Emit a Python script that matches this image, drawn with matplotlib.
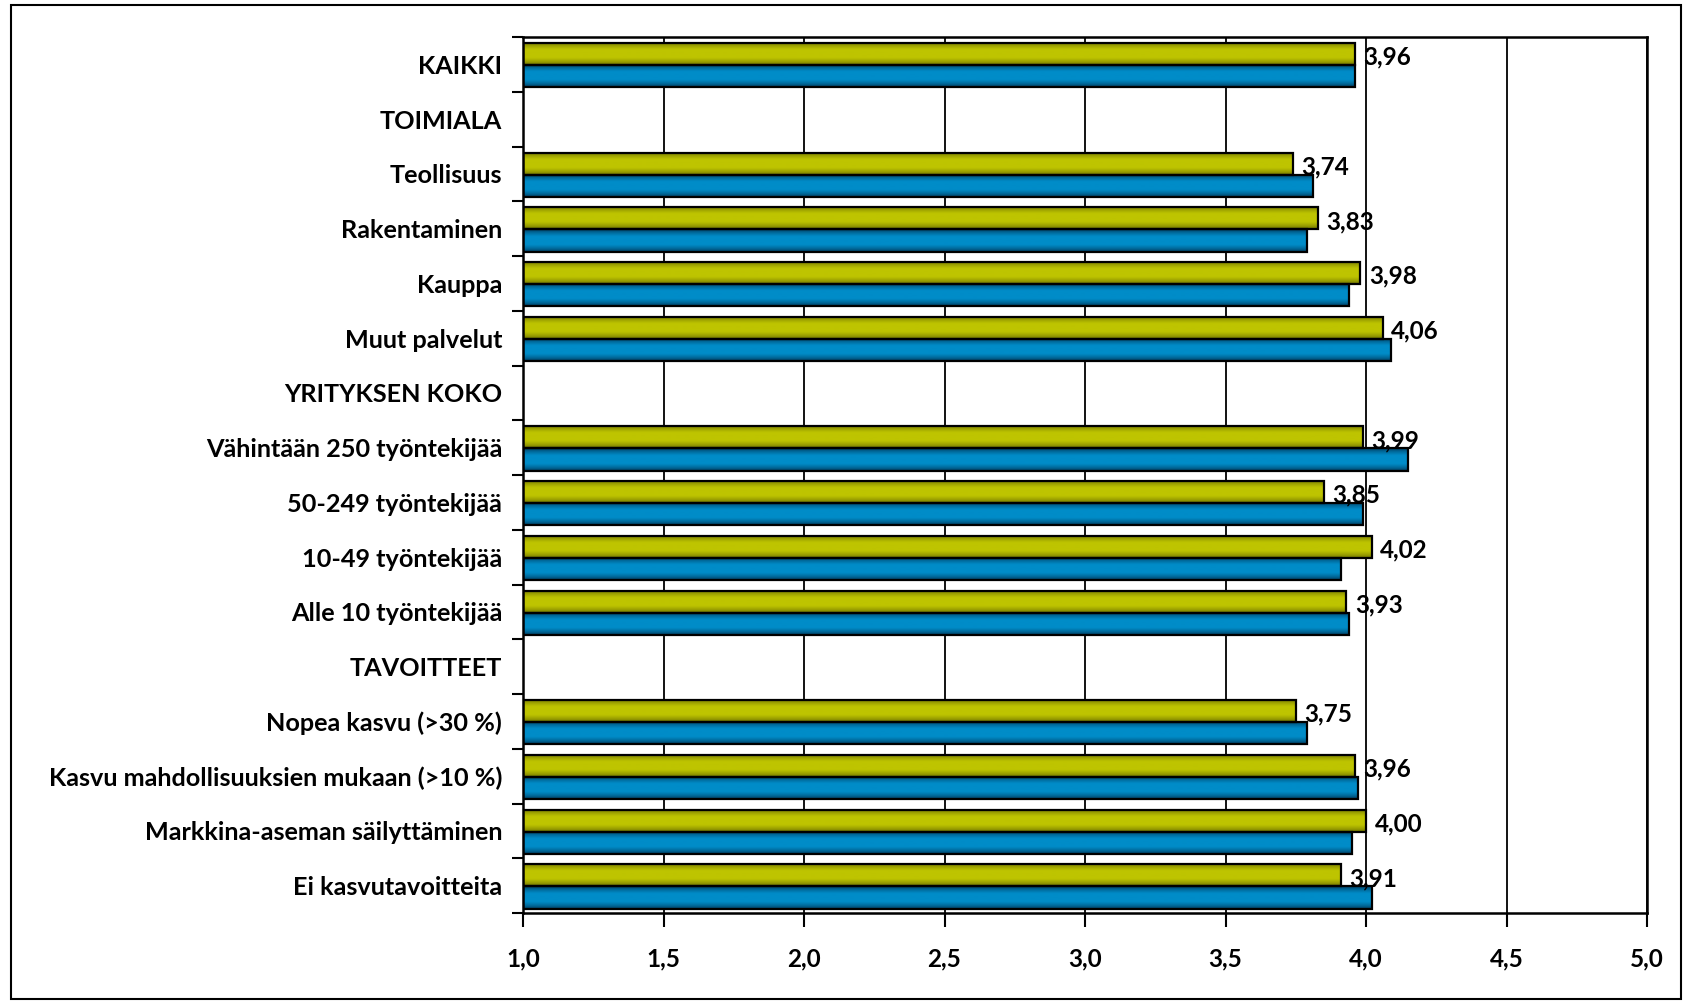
import numpy as np
import matplotlib
matplotlib.use("Agg")
import matplotlib.pyplot as plt
from matplotlib.patches import Rectangle

categories = ["KAIKKI", "TOIMIALA", "Teollisuus", "Rakentaminen", "Kauppa",
              "Muut palvelut", "YRITYKSEN KOKO", "Vähintään 250 työntekijää",
              "50-249 työntekijää", "10-49 työntekijää", "Alle 10 työntekijää",
              "TAVOITTEET", "Nopea kasvu (>30 %)",
              "Kasvu mahdollisuuksien mukaan (>10 %)",
              "Markkina-aseman säilyttäminen", "Ei kasvutavoitteita"]
series_yellow = [3.96, np.nan, 3.74, 3.83, 3.98, 4.06, np.nan, 3.99, 3.85, 4.02,
                 3.93, np.nan, 3.75, 3.96, 4.00, 3.91]
series_blue = [3.96, np.nan, 3.81, 3.79, 3.94, 4.09, np.nan, 4.15, 3.99, 3.91,
               3.94, np.nan, 3.79, 3.97, 3.95, 4.02]
xticks = [1.0, 1.5, 2.0, 2.5, 3.0, 3.5, 4.0, 4.5, 5.0]
xticklabels = ["1,0", "1,5", "2,0", "2,5", "3,0", "3,5", "4,0", "4,5", "5,0"]

plt.rcParams['font.family'] = ['Lato', 'DejaVu Sans']
plt.rcParams['font.weight'] = 'bold'

W, H = 1684, 1002
fig = plt.figure(figsize=(W / 100, H / 100), dpi=100)
fig.patch.set_facecolor('white')

# outer frame
fig.add_artist(Rectangle((11 / W, 1 - 999 / H), (1681 - 11) / W, (999 - 5) / H,
                         transform=fig.transFigure, fill=False,
                         edgecolor='black', linewidth=1.5))

ax = fig.add_axes([523 / W, 1 - 913 / H, (1647 - 523) / W, (913 - 37) / H])

n = len(categories)
y = np.arange(n)
bh = 0.405
off = 0.015

yellow_mid = np.array([190, 196, 0]) / 255
yellow_dark = np.array([95, 98, 0]) / 255
blue_mid = np.array([0, 140, 200]) / 255
blue_dark = np.array([0, 45, 75]) / 255


def gradient(mid, dark, npts=60):
    t = np.linspace(0, 1, npts)
    s = np.clip(np.minimum(t, 1 - t) / 0.32, 0, 1) ** 0.6
    return (dark[None, :] + (mid - dark)[None, :] * s[:, None])[:, None, :]


gy = gradient(yellow_mid, yellow_dark)
gb = gradient(blue_mid, blue_dark)

for i, (vy, vb) in enumerate(zip(series_yellow, series_blue)):
    if not np.isnan(vy):
        y0 = y[i] + off - bh  # top of yellow
        ax.imshow(gy, extent=(0, vy, y0 + bh, y0), origin='upper', aspect='auto',
                  interpolation='bilinear', zorder=2)
        ax.barh(y0 + bh / 2, vy, height=bh, color='none', edgecolor='black',
                linewidth=1.6, zorder=3)
        ax.text(vy + 0.03, y0 + bh / 2 + 0.06,
                f"{vy:.2f}".replace('.', ','), ha='left', va='center',
                fontsize=17.5, fontweight='bold', color='black', zorder=4)
    if not np.isnan(vb):
        y0 = y[i] + off
        ax.imshow(gb, extent=(0, vb, y0 + bh, y0), origin='upper', aspect='auto',
                  interpolation='bilinear', zorder=2)
        ax.barh(y0 + bh / 2, vb, height=bh, color='none', edgecolor='black',
                linewidth=1.6, zorder=3)

ax.set_xlim(1.0, 5.0)
ax.set_ylim(n - 0.5, -0.5)

ax.set_xticks(xticks)
ax.set_xticklabels(xticklabels, fontsize=17.5, fontweight='bold')
ax.tick_params(axis='x', direction='out', length=10, width=1.5, pad=15)

ax.set_yticks(np.arange(n + 1) - 0.5)
ax.set_yticklabels([])
ax.tick_params(axis='y', which='major', direction='out', length=8, width=1.5)
ax.set_yticks(y, minor=True)
ax.set_yticklabels(categories, minor=True, fontsize=18.2, fontweight='bold')
ax.tick_params(axis='y', which='minor', length=0, pad=15)

ax.grid(axis='x', which='major', color='black', linewidth=1.3, zorder=0)
ax.set_axisbelow(True)
for s in ax.spines.values():
    s.set_linewidth(1.8)
    s.set_color('black')

fig.savefig('out.png', dpi=100)
